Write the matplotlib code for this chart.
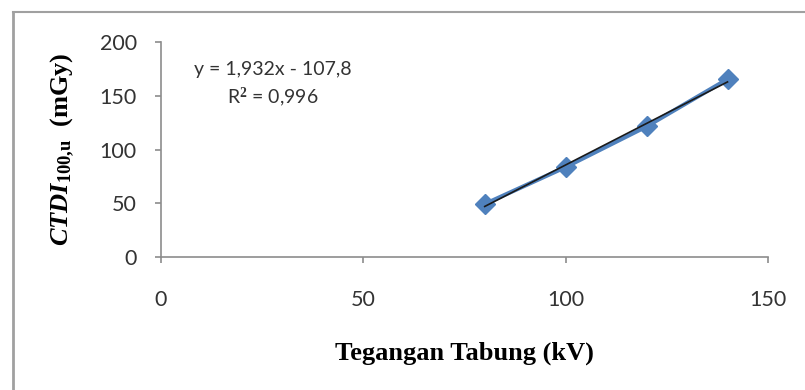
import numpy as np
import matplotlib
matplotlib.use("Agg")
import matplotlib.pyplot as plt
from matplotlib.lines import Line2D

# data
tegangan = [80, 100, 120, 140]          # kV
ctdi = [49.3, 83.7, 121.5, 165.5]       # mGy
xticks = [0, 50, 100, 150]
yticks = [0, 50, 100, 150, 200]

plt.rcParams['mathtext.fontset'] = 'custom'
plt.rcParams['mathtext.it'] = 'Liberation Serif:italic:bold'
plt.rcParams['mathtext.rm'] = 'Liberation Serif:bold'
plt.rcParams['mathtext.bf'] = 'Liberation Serif:bold'

fig = plt.figure(figsize=(8.05, 3.9), dpi=100)
ax = fig.add_axes([0.2, 0.341, 0.754, 0.551])

# frame lines of the picture (left and top)
fig.add_artist(Line2D([0.016, 0.016], [0, 0.97], transform=fig.transFigure, color='#a0a0a0', lw=2))
fig.add_artist(Line2D([0.016, 1.0], [0.97, 0.97], transform=fig.transFigure, color='#a0a0a0', lw=1.5))

ax.plot(tegangan, ctdi, color='#4f81bd', lw=3, marker='D', markersize=10,
        markerfacecolor='#4f81bd', markeredgecolor='#4f81bd', zorder=2)

# linear trendline
k, b = np.polyfit(tegangan, ctdi, 1)
xs = np.array([tegangan[0], tegangan[-1]])
ax.plot(xs, k * xs + b, color='#1a1a1a', lw=1.2, zorder=3)

ax.set_xlim(0, 150)
ax.set_ylim(0, 200)
ax.set_xticks(xticks)
ax.set_yticks(yticks)

for s in ['top', 'right']:
    ax.spines[s].set_visible(False)
for s in ['left', 'bottom']:
    ax.spines[s].set_color('#8c8c8c')
    ax.spines[s].set_linewidth(1.2)

ax.tick_params(axis='both', direction='out', length=4.5, color='#8c8c8c', width=1.2,
               labelsize=15.5, labelcolor='#333333')
ax.tick_params(axis='x', pad=19)
ax.tick_params(axis='y', pad=13)
for lab in ax.get_xticklabels() + ax.get_yticklabels():
    lab.set_family('Lato')

ax.text(0.185, 0.80, 'y = 1,932x - 107,8\nR$^{2}$ = 0,996', transform=ax.transAxes,
        ha='center', va='center', fontsize=14, family='Lato', color='#333333',
        linespacing=1.4)

ax.set_xlabel('Tegangan Tabung (kV)', family='Liberation Serif', fontweight='bold',
              fontsize=19)
ax.set_ylabel(r'$\mathit{CTDI}_{\mathrm{100{,}u}}$  (mGy)', family='Liberation Serif',
              fontweight='bold', fontsize=19)
ax.xaxis.set_label_coords(0.5, -0.447)
ax.xaxis.label.set_va('center')
ax.yaxis.set_label_coords(-0.161, 0.5)
ax.yaxis.label.set_va('center')

fig.savefig('out.png', dpi=100)
